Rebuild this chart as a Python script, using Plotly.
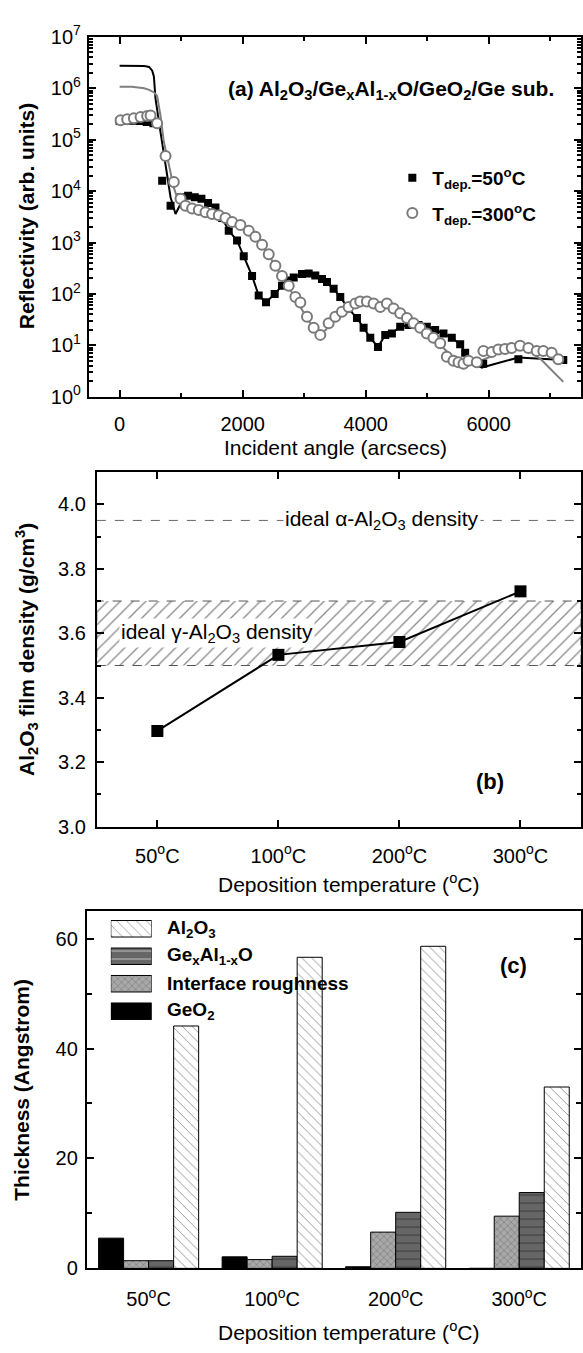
import plotly.graph_objects as go

# ---------------- Panel (a): X-ray reflectivity ----------------
angle_50 = [0, 110, 220, 330, 440, 550, 692, 828, 1000, 1114, 1222, 1330, 1438, 1558,
            1666, 1774, 1909, 2018, 2153, 2261, 2380, 2521, 2640, 2740, 2830, 2965, 3073,
            3181, 3290, 3371, 3479, 3587, 3722, 3858, 3966, 4075, 4200, 4318, 4426, 4561,
            4697, 4859, 4994, 5129, 5265, 5400, 5536, 5617, 5910, 6482, 7212]
refl_50 = [2.3e5, 2.35e5, 2.35e5, 2.3e5, 2.2e5, 2.1e5, 1.6e4, 5.2e3, 7.6e3, 8.1e3, 7.6e3, 7.1e3,
           5.9e3, 4.8e3, 3.0e3, 1.7e3, 1.1e3, 540, 224, 93, 69, 100, 145, 182, 209, 245, 251,
           229, 195, 170, 126, 87, 52, 34, 22, 14, 9.3, 16, 17, 23, 25, 25, 23, 20, 17, 14,
           10.5, 7.2, 4.4, 5.4, 5.2]

angle_300 = [16, 123, 232, 341, 448, 503, 610, 747, 881, 990, 1071, 1179, 1287, 1396, 1504,
             1612, 1720, 1829, 1964, 2099, 2207, 2316, 2424, 2532, 2640, 2749, 2857, 2938,
             3046, 3154, 3263, 3398, 3506, 3614, 3722, 3831, 3912, 4020, 4129, 4237, 4345,
             4453, 4561, 4670, 4778, 4886, 4994, 5102, 5211, 5319, 5427, 5509, 5590, 5671,
             5806, 5914, 6049, 6157, 6265, 6373, 6509, 6644, 6780, 6888, 7023, 7131]
refl_300 = [2.4e5, 2.5e5, 2.6e5, 2.75e5, 2.9e5, 2.95e5, 2.1e5, 4.8e4, 1.5e4, 7.1e3, 5.2e3,
            4.6e3, 4.3e3, 3.9e3, 3.6e3, 3.4e3, 3.0e3, 2.5e3, 2.2e3, 1.7e3, 1.3e3, 910, 590,
            355, 224, 145, 87, 68, 36, 22, 16, 27, 36, 45, 56, 65, 71, 71, 65, 56, 65, 52, 42,
            34, 27, 22, 17, 14, 11, 6.0, 5.0, 4.7, 4.4, 5.0, 4.7, 7.8, 7.4, 8.3, 8.5, 8.9,
            9.8, 8.9, 7.8, 7.8, 7.2, 5.4]

fit_angle_50 = [0, 200, 400, 480, 530, 557, 584, 665, 747, 828, 909, 970, 1050, 1110, 1222,
                1330, 1438, 1558, 1666, 1774, 1909, 2018, 2153, 2261, 2380, 2521, 2640, 2830,
                2965, 3073, 3181, 3290, 3479, 3587, 3722, 3858, 3966, 4075, 4200, 4318, 4426,
                4561, 4697, 4859, 4994, 5129, 5265, 5400, 5536, 5617, 5750, 5887, 6050, 6250,
                6482, 6700, 6900, 7212]
fit_refl_50 = [2.75e6, 2.75e6, 2.7e6, 2.6e6, 2.2e6, 1.7e6, 6.2e5, 1.4e5, 3.3e4, 7.6e3, 3.6e3,
               5.0e3, 7.1e3, 8.1e3, 7.6e3, 7.1e3, 5.9e3, 4.8e3, 3.0e3, 1.7e3, 1.1e3, 540, 224,
               93, 69, 100, 145, 209, 245, 251, 229, 195, 126, 87, 52, 34, 22, 14, 9.3, 16, 17,
               23, 25, 25, 23, 20, 17, 14, 10.5, 7.2, 4.8, 3.7, 4.2, 5.0, 5.8, 5.6, 5.4, 5.2]

fit_angle_300 = [0, 200, 400, 480, 560, 610, 665, 719, 800, 881, 963, 1071, 1179, 1287, 1396,
                 1504, 1612, 1720, 1829, 1964, 2099, 2207, 2316, 2424, 2532, 2640, 2749, 2857,
                 2965, 3073, 3181, 3263, 3350, 3450, 3560, 3700, 3850, 4000, 4150, 4300, 4450,
                 4600, 4750, 4900, 5050, 5200, 5350, 5500, 5650, 5800, 5950, 6100, 6250, 6428,
                 6550, 6700, 6860, 7000, 7212]
fit_refl_300 = [1.07e6, 1.07e6, 1.0e6, 9.3e5, 8.3e5, 7.1e5, 2.95e5, 9.1e4, 3.3e4, 1.17e4, 6.0e3,
                4.8e3, 4.4e3, 4.1e3, 3.8e3, 3.5e3, 3.3e3, 2.9e3, 2.5e3, 2.1e3, 1.7e3, 1.29e3,
                890, 575, 347, 214, 135, 83, 50, 30, 20, 17, 20, 28, 38, 52, 63, 69, 66, 59,
                50, 38, 28, 21, 15, 10.5, 7.1, 5.0, 4.3, 4.6, 5.5, 6.6, 7.9, 8.9, 8.9, 7.2, 5.2,
                3.5, 1.95]

# ---------------- Panel (b): film density ----------------
temps = ["50<sup>o</sup>C", "100<sup>o</sup>C", "200<sup>o</sup>C", "300<sup>o</sup>C"]
density = [3.297, 3.533, 3.573, 3.73]
alpha_density = 3.95
gamma_density_band = [3.5, 3.7]

# ---------------- Panel (c): layer thickness ----------------
thk_geo2 = [5.5, 2.1, 0.3, 0.0]
thk_rough = [1.4, 1.6, 6.6, 9.5]
thk_gealo = [1.4, 2.2, 10.2, 13.8]
thk_al2o3 = [44.1, 56.6, 58.6, 33.0]
layer_names = ["GeO<sub>2</sub>", "Interface roughness",
               "Ge<sub>x</sub>Al<sub>1-x</sub>O", "Al<sub>2</sub>O<sub>3</sub>"]

# ---------------- figure ----------------
W, H = 583, 1353
FONT = "Liberation Sans, Arial, sans-serif"


def px(xp):
    return xp / W


def py(yp):
    return 1 - yp / H


fig = go.Figure()

# (a)
fig.add_trace(go.Scatter(x=fit_angle_50, y=fit_refl_50, mode="lines",
                         line=dict(color="black", width=2), showlegend=False,
                         xaxis="x", yaxis="y", hoverinfo="skip"))
fig.add_trace(go.Scatter(x=fit_angle_300, y=fit_refl_300, mode="lines",
                         line=dict(color="#808080", width=2), showlegend=False,
                         xaxis="x", yaxis="y", hoverinfo="skip"))
fig.add_trace(go.Scatter(x=angle_50, y=refl_50, mode="markers",
                         marker=dict(symbol="square", size=8, color="black"),
                         name="T<sub>dep.</sub>=50<sup>o</sup>C", legend="legend",
                         xaxis="x", yaxis="y"))
fig.add_trace(go.Scatter(x=angle_300, y=refl_300, mode="markers",
                         marker=dict(symbol="circle", size=10, color="white",
                                     line=dict(color="#7a7a7a", width=2)),
                         name="T<sub>dep.</sub>=300<sup>o</sup>C", legend="legend2",
                         xaxis="x", yaxis="y"))

# (b)
xr_b = [-0.5, len(temps) - 0.5]
g0, g1 = gamma_density_band
fig.add_trace(go.Scatter(x=[xr_b[0], xr_b[1], xr_b[1], xr_b[0], xr_b[0]],
                         y=[g0, g0, g1, g1, g0], mode="lines", fill="toself",
                         fillcolor="white",
                         fillpattern=dict(shape="/", fgcolor="#111111", bgcolor="white",
                                          size=9, solidity=0.14),
                         line=dict(color="#555555", width=1, dash="dash"),
                         showlegend=False, xaxis="x2", yaxis="y2", hoverinfo="skip"))
fig.add_trace(go.Scatter(x=xr_b, y=[alpha_density, alpha_density], mode="lines",
                         line=dict(color="#666666", width=1, dash="dash"),
                         showlegend=False, xaxis="x2", yaxis="y2", hoverinfo="skip"))
fig.add_trace(go.Scatter(x=list(range(len(temps))), y=density, mode="lines+markers",
                         line=dict(color="black", width=2),
                         marker=dict(symbol="square", size=12, color="black"),
                         showlegend=False, xaxis="x2", yaxis="y2"))

# (c)
bar_styles = [
    dict(color="black", shape="", fg="black", size=8, sol=0.2),
    dict(color="#a8a8a8", shape="x", fg="#3a3a3a", size=5, sol=0.2),
    dict(color="#666666", shape="-", fg="#1a1a1a", size=8, sol=0.15),
    dict(color="white", shape="\\", fg="#222222", size=7, sol=0.13),
]
for vals, st in zip([thk_geo2, thk_rough, thk_gealo, thk_al2o3], bar_styles):
    fig.add_trace(go.Bar(x=temps, y=vals, xaxis="x3", yaxis="y3", showlegend=False,
                         marker=dict(color=st["color"], line=dict(color="black", width=1),
                                     pattern=dict(shape=st["shape"], fgcolor=st["fg"],
                                                  bgcolor=st["color"], size=st["size"],
                                                  solidity=st["sol"]))))

# manual legend swatches for (c) (top to bottom: Al2O3, GeAlO, roughness, GeO2)
order = [3, 2, 1, 0]
sw = [bar_styles[i] for i in order]
fig.add_trace(go.Bar(orientation="h", x=[1] * 4, y=list(range(4)), base=0, width=0.6,
                     xaxis="x4", yaxis="y4", showlegend=False, hoverinfo="skip",
                     marker=dict(color=[s["color"] for s in sw],
                                 line=dict(color="black", width=1),
                                 pattern=dict(shape=[s["shape"] for s in sw],
                                              fgcolor=[s["fg"] for s in sw],
                                              bgcolor=[s["color"] for s in sw],
                                              size=[s["size"] for s in sw],
                                              solidity=[s["sol"] for s in sw]))))

tickfont = dict(family=FONT, size=20, color="black")
common = dict(showline=True, linewidth=2, linecolor="black", mirror="ticks",
              ticks="inside", ticklen=7, tickwidth=2, tickcolor="black",
              showgrid=False, zeroline=False, tickfont=tickfont)

minor_log = [m * 10 ** e for e in range(7) for m in range(2, 10)]

fig.update_layout(
    width=W, height=H, margin=dict(l=0, r=0, t=0, b=0),
    paper_bgcolor="white", plot_bgcolor="white",
    font=dict(family=FONT, color="black"),
    barmode="group", bargap=0.19, bargroupgap=0,
    xaxis=dict(common, domain=[px(89), px(582)], range=[-500, 7500], anchor="y",
               tick0=0, dtick=2000, ticklabelstandoff=8,
               minor=dict(tick0=0, dtick=1000, ticks="inside", ticklen=4, tickwidth=2,
                          tickcolor="black")),
    yaxis=dict(common, domain=[py(390), py(23.3)], type="log", range=[0, 7], anchor="x",
               tickvals=[10 ** i for i in range(8)],
               ticktext=["10<sup>%d</sup>" % i for i in range(8)], ticklabelstandoff=2,
               minor=dict(tickvals=minor_log, ticks="inside", ticklen=4, tickwidth=1.5,
                          tickcolor="black")),
    xaxis2=dict(common, domain=[px(97), px(582)], range=xr_b, anchor="y2",
                tickvals=list(range(len(temps))), ticktext=temps, ticklabelstandoff=10),
    yaxis2=dict(common, domain=[py(828), py(466.7)], range=[3.0, 4.1], anchor="x2",
                tick0=3.0, dtick=0.2, tickformat=".1f", ticklabelstandoff=5,
                minor=dict(tick0=3.0, dtick=0.1, ticks="inside", ticklen=4, tickwidth=2,
                           tickcolor="black")),
    xaxis3=dict(common, domain=[px(87), px(582)], type="category", range=[-0.5, 3.5],
                anchor="y3", ticks="", mirror=True, ticklabelstandoff=12),
    yaxis3=dict(common, domain=[py(1278), py(914)], range=[0, 65], anchor="x3",
                tick0=0, dtick=20, ticklabelstandoff=3,
                minor=dict(tick0=0, dtick=10, ticks="inside", ticklen=5, tickwidth=2,
                           tickcolor="black")),
    xaxis4=dict(domain=[px(111), px(152)], range=[0, 1], visible=False, anchor="y4",
                fixedrange=True),
    yaxis4=dict(domain=[py(1030), py(918)], range=[3.5, -0.5], visible=False, anchor="x4",
                fixedrange=True),
    legend=dict(x=px(393), y=py(167), xanchor="left", yanchor="middle",
                bgcolor="rgba(0,0,0,0)",
                font=dict(family=FONT, size=19, color="black", weight="bold")),
    legend2=dict(x=px(393), y=py(203), xanchor="left", yanchor="middle",
                 bgcolor="rgba(0,0,0,0)",
                 font=dict(family=FONT, size=19, color="black", weight="bold")),
)

ann = []


def txt(text, x, y, size=21, bold=False, angle=0, xref="paper", yref="paper",
        xanchor="center", bg=None):
    d = dict(text=text, x=x, y=y, xref=xref, yref=yref, showarrow=False,
             xanchor=xanchor, yanchor="middle", textangle=angle,
             font=dict(family=FONT, size=size, color="black",
                       weight="bold" if bold else "normal"))
    if bg:
        d["bgcolor"] = bg
    ann.append(d)


# panel (a)
txt("(a) Al<sub>2</sub>O<sub>3</sub>/Ge<sub>x</sub>Al<sub>1-x</sub>O/GeO<sub>2</sub>/Ge sub.",
    px(392), py(77), size=21, bold=True)
txt("Incident angle (arcsecs)", px(336), py(442), size=21)
txt("Reflectivity (arb. units)", px(26), py(206), size=21, bold=True, angle=-90)

# panel (b)
txt("ideal \u03b1-Al<sub>2</sub>O<sub>3</sub> density", 1.86, alpha_density, size=21,
    xref="x2", yref="y2", bg="white")
txt("ideal \u03b3-Al<sub>2</sub>O<sub>3</sub> density", 0.49, 3.6, size=21,
    xref="x2", yref="y2", bg="white")
txt("(b)", 2.75, 3.14, size=22, bold=True, xref="x2", yref="y2")
txt("Al<sub>2</sub>O<sub>3</sub> film density (g/cm<sup>3</sup>)", px(26), py(647),
    size=21, bold=True, angle=-90)
txt("Deposition temperature (<sup>o</sup>C)", px(349), py(885), size=21)

# panel (c)
txt("(c)", px(514), py(969), size=22, bold=True)
txt("Thickness (Angstrom)", px(22), py(1096), size=21, bold=True, angle=-90)
txt("Deposition temperature (<sup>o</sup>C)", px(349), py(1342), size=21)
for i, idx in enumerate(order):
    txt(layer_names[idx], px(165), i, size=19, bold=True, yref="y4", xanchor="left")

fig.update_layout(annotations=ann)

fig.write_html("out.html")
